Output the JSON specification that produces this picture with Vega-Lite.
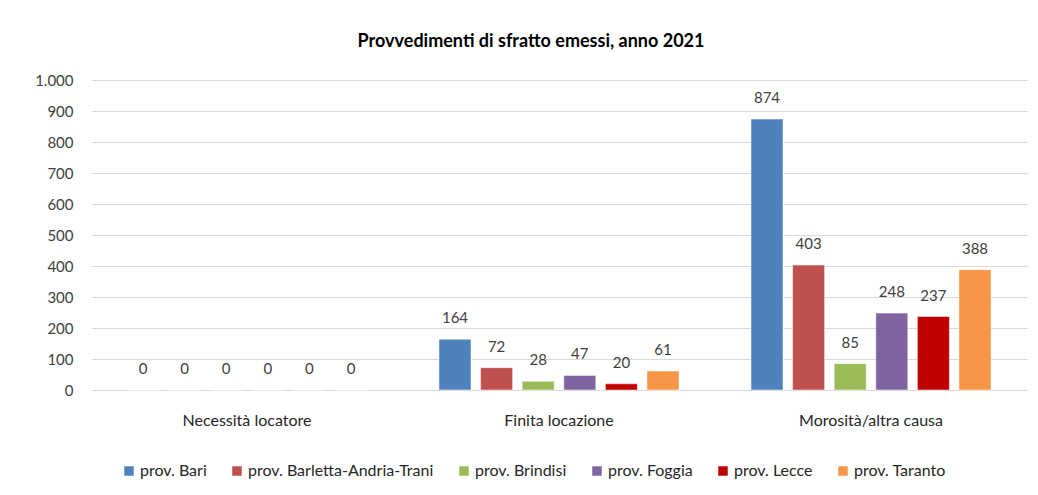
{
  "$schema": "https://vega.github.io/schema/vega-lite/v6.json",
  "width": 936,
  "height": 310,
  "autosize": {"type": "none"},
  "padding": {"left": 91, "top": 80, "right": 11, "bottom": 105},
  "background": "white",
  "title": {
    "text": "Provvedimenti di sfratto emessi, anno 2021",
    "font": "Lato",
    "fontSize": 18,
    "fontWeight": "bold",
    "color": "#000000",
    "anchor": "middle",
    "dx": -28,
    "offset": 22
  },
  "config": {
    "view": {"stroke": null},
    "font": "Lato",
    "axis": {"labelFont": "Lato", "labelFontSize": 15, "labelColor": "#404040"},
    "legend": {"labelFont": "Lato", "labelFontSize": 16, "labelColor": "#262626"}
  },
  "data": {
    "values": [
      {"causa": "Necessità locatore", "provincia": "prov. Bari", "valore": 0},
      {"causa": "Necessità locatore", "provincia": "prov. Barletta-Andria-Trani", "valore": 0},
      {"causa": "Necessità locatore", "provincia": "prov. Brindisi", "valore": 0},
      {"causa": "Necessità locatore", "provincia": "prov. Foggia", "valore": 0},
      {"causa": "Necessità locatore", "provincia": "prov. Lecce", "valore": 0},
      {"causa": "Necessità locatore", "provincia": "prov. Taranto", "valore": 0},
      {"causa": "Finita locazione", "provincia": "prov. Bari", "valore": 164},
      {"causa": "Finita locazione", "provincia": "prov. Barletta-Andria-Trani", "valore": 72},
      {"causa": "Finita locazione", "provincia": "prov. Brindisi", "valore": 28},
      {"causa": "Finita locazione", "provincia": "prov. Foggia", "valore": 47},
      {"causa": "Finita locazione", "provincia": "prov. Lecce", "valore": 20},
      {"causa": "Finita locazione", "provincia": "prov. Taranto", "valore": 61},
      {"causa": "Morosità/altra causa", "provincia": "prov. Bari", "valore": 874},
      {"causa": "Morosità/altra causa", "provincia": "prov. Barletta-Andria-Trani", "valore": 403},
      {"causa": "Morosità/altra causa", "provincia": "prov. Brindisi", "valore": 85},
      {"causa": "Morosità/altra causa", "provincia": "prov. Foggia", "valore": 248},
      {"causa": "Morosità/altra causa", "provincia": "prov. Lecce", "valore": 237},
      {"causa": "Morosità/altra causa", "provincia": "prov. Taranto", "valore": 388}
    ]
  },
  "encoding": {
    "x": {
      "field": "causa",
      "type": "nominal",
      "sort": ["Necessità locatore", "Finita locazione", "Morosità/altra causa"],
      "scale": {"paddingInner": 0.2, "paddingOuter": 0.1},
      "axis": {"title": null, "labelAngle": 0, "domain": false, "ticks": false, "labelPadding": 22, "labelFontSize": 16, "labelColor": "#262626"}
    },
    "xOffset": {
      "field": "provincia",
      "type": "nominal",
      "sort": ["prov. Bari", "prov. Barletta-Andria-Trani", "prov. Brindisi", "prov. Foggia", "prov. Lecce", "prov. Taranto"],
      "scale": {"paddingInner": 0.23, "paddingOuter": 0.115}
    },
    "y": {
      "field": "valore",
      "type": "quantitative",
      "scale": {"domain": [0, 1000]},
      "axis": {
        "title": null,
        "values": [0, 100, 200, 300, 400, 500, 600, 700, 800, 900, 1000],
        "domain": false,
        "ticks": false,
        "labelPadding": 18,
        "gridColor": "#d9d9d9",
        "gridWidth": 1,
        "labelExpr": "replace(format(datum.value, ','), ',', '.')"
      }
    }
  },
  "layer": [
    {
      "mark": {"type": "bar", "stroke": "white", "strokeWidth": 0.5},
      "encoding": {
        "color": {
          "field": "provincia",
          "type": "nominal",
          "sort": ["prov. Bari", "prov. Barletta-Andria-Trani", "prov. Brindisi", "prov. Foggia", "prov. Lecce", "prov. Taranto"],
          "scale": {
            "domain": ["prov. Bari", "prov. Barletta-Andria-Trani", "prov. Brindisi", "prov. Foggia", "prov. Lecce", "prov. Taranto"],
            "range": ["#4F81BD", "#C0504D", "#9BBB59", "#8064A2", "#C00000", "#F79646"]
          },
          "legend": {
            "title": null,
            "orient": "none",
            "legendX": 30,
            "legendY": 383,
            "direction": "horizontal",
            "symbolType": "square",
            "symbolSize": 90,
            "symbolStrokeWidth": 0,
            "labelOffset": 3,
            "labelLimit": 400,
            "columnPadding": 22
          }
        }
      }
    },
    {
      "mark": {"type": "text", "baseline": "middle", "dy": -21, "fontSize": 15, "color": "#404040", "font": "Lato"},
      "encoding": {
        "text": {"field": "valore", "type": "quantitative"}
      }
    }
  ]
}
